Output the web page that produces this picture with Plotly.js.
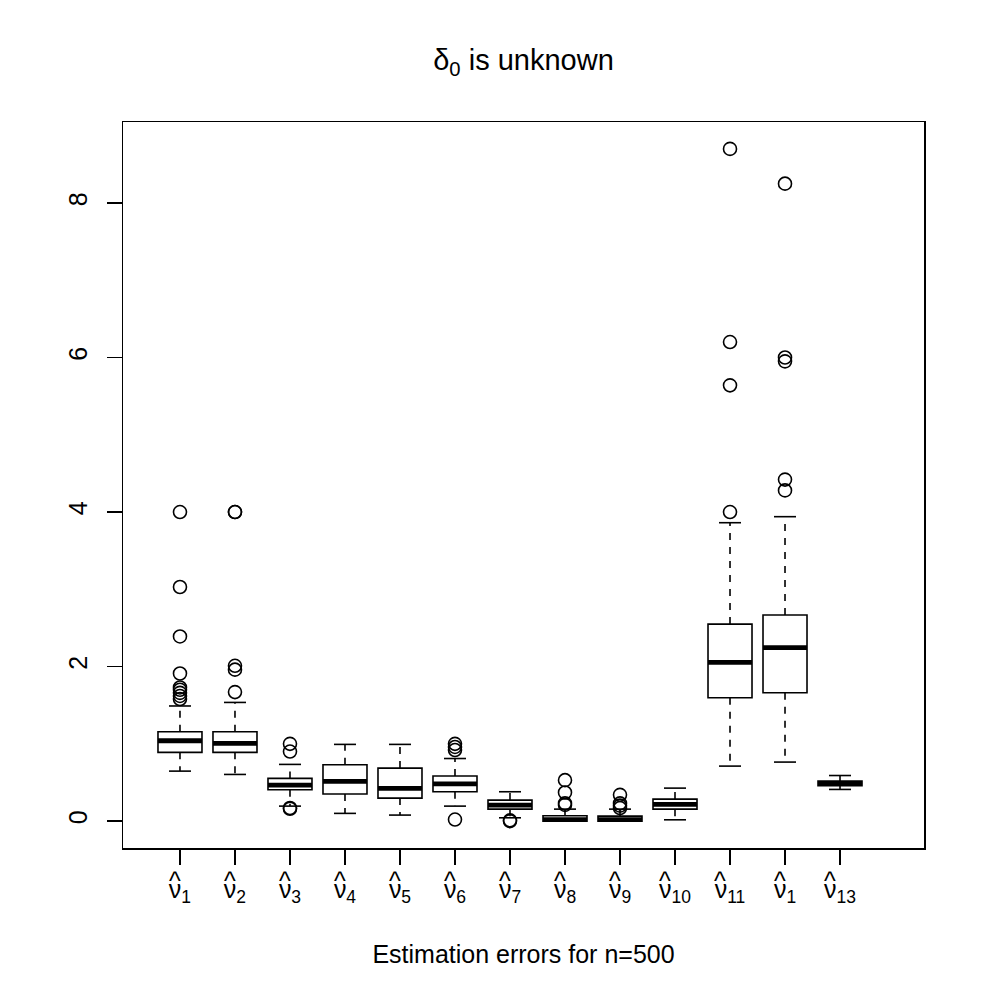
<!DOCTYPE html>
<html>
<head>
<meta charset="utf-8">
<script src="https://cdn.plot.ly/plotly-3.0.1.min.js"></script>
<style>html,body{margin:0;padding:0;background:#fff;}#chart{width:988px;height:1003px;}</style>
</head>
<body>
<div id="chart"></div>
<script>
// ---- data ----
const positions = [1,2,3,4,5,6,7,8,9,10,11,12,13];
const labelSubscripts = ["1","2","3","4","5","6","7","8","9","10","11","1","13"];
const q1Values     = [0.89, 0.89, 0.405, 0.35, 0.298, 0.38, 0.155, 0.0, 0.0, 0.155, 1.596, 1.661, 0.457];
const medianValues = [1.04, 1.006, 0.466, 0.514, 0.423, 0.483, 0.207, 0.02, 0.02, 0.216, 2.054, 2.244, 0.488];
const q3Values     = [1.156, 1.156, 0.553, 0.729, 0.686, 0.583, 0.272, 0.069, 0.065, 0.285, 2.55, 2.667, 0.518];
const lowerWhisker = [0.647, 0.604, 0.194, 0.1, 0.078, 0.194, 0.043, 0.0, 0.0, 0.017, 0.712, 0.764, 0.41];
const upperWhisker = [1.49, 1.536, 0.734, 0.993, 0.993, 0.81, 0.38, 0.155, 0.155, 0.427, 3.862, 3.94, 0.59];
const outlierValues = [
  [4.0, 3.03, 2.39, 1.91, 1.73, 1.70, 1.66, 1.62, 1.58],
  [4.0, 4.0, 2.01, 1.96, 1.67],
  [1.0, 0.9, 0.17, 0.16],
  [],
  [],
  [1.0, 0.96, 0.92, 0.02],
  [0.01, 0.0],
  [0.53, 0.37, 0.23, 0.21],
  [0.34, 0.23, 0.2, 0.17],
  [],
  [8.7, 6.2, 5.64, 4.0],
  [8.25, 6.0, 5.95, 4.42, 4.28],
  []
];
const yTickValues = [0, 2, 4, 6, 8];
const titleText = "δ<sub>0</sub> is unknown";
const xTitleText = "Estimation errors for n=500";

// ---- styling ----
const FONT = "Liberation Sans, Arial, Helvetica, sans-serif";
const BOX_WIDTH = 0.8;
const CAP_HALF = BOX_WIDTH / 4;

const tickLabels = labelSubscripts.map(s => "ν<sub>" + s + "</sub>");

// hats (^) drawn above each ν, as R's hat(nu)[i]
const hatAnnotations = positions.map((p, i) => ({
  text: "^", xref: 'x', yref: 'paper', x: p, y: 0,
  xanchor: 'center', yanchor: 'middle',
  xshift: -labelSubscripts[i].length * 4.9, yshift: -33,
  showarrow: false, font: {family: FONT, size: 25, color: '#000'}
}));

const boxTrace = {
  type: 'box',
  x: positions,
  q1: q1Values,
  median: medianValues,
  q3: q3Values,
  lowerfence: q1Values,
  upperfence: q3Values,
  width: BOX_WIDTH,
  whiskerwidth: 0,
  boxpoints: false,
  fillcolor: '#ffffff',
  line: {color: '#000000', width: 1.6},
  hoverinfo: 'skip'
};

const wx = [], wy = [], cx = [], cy = [], mx = [], my = [];
positions.forEach((p, i) => {
  wx.push(p, p, null, p, p, null);
  wy.push(q3Values[i], upperWhisker[i], null, q1Values[i], lowerWhisker[i], null);
  cx.push(p - CAP_HALF, p + CAP_HALF, null, p - CAP_HALF, p + CAP_HALF, null);
  cy.push(upperWhisker[i], upperWhisker[i], null, lowerWhisker[i], lowerWhisker[i], null);
  mx.push(p - BOX_WIDTH / 2, p + BOX_WIDTH / 2, null);
  my.push(medianValues[i], medianValues[i], null);
});

const whiskerTrace = {type: 'scatter', mode: 'lines', x: wx, y: wy, line: {color: '#000', width: 1.6, dash: '7px,7px'}, hoverinfo: 'skip', connectgaps: false};
const capTrace = {type: 'scatter', mode: 'lines', x: cx, y: cy, line: {color: '#000', width: 1.6}, hoverinfo: 'skip', connectgaps: false};
const medianTrace = {type: 'scatter', mode: 'lines', x: mx, y: my, line: {color: '#000', width: 4.8}, hoverinfo: 'skip', connectgaps: false};

const ox = [], oy = [];
outlierValues.forEach((arr, i) => arr.forEach(v => { ox.push(positions[i]); oy.push(v); }));
const outlierTrace = {type: 'scatter', mode: 'markers', x: ox, y: oy,
  marker: {symbol: 'circle-open', size: 13, color: '#000', line: {width: 1.6, color: '#000'}}, hoverinfo: 'skip'};

const layout = {
  width: 988, height: 1003,
  margin: {l: 123, r: 64, t: 122, b: 155, pad: 0},
  paper_bgcolor: '#ffffff', plot_bgcolor: '#ffffff',
  showlegend: false,
  font: {family: FONT, color: '#000', size: 24},
  title: {text: titleText, font: {family: FONT, size: 29, color: '#000'},
    x: 0.5, xref: 'paper', xanchor: 'center', y: 1 - 60 / 1003, yref: 'container', yanchor: 'middle'},
  annotations: hatAnnotations,
  xaxis: {
    range: [-0.036, 14.527],
    tickmode: 'array', tickvals: positions, ticktext: tickLabels,
    ticks: 'outside', ticklen: 15, tickwidth: 1.5, tickcolor: '#000',
    ticklabelstandoff: 3,
    showline: true, mirror: true, linecolor: '#000', linewidth: 1.5,
    showgrid: false, zeroline: false,
    tickfont: {family: FONT, size: 25, color: '#000'},
    title: {text: xTitleText, font: {family: FONT, size: 25, color: '#000'}, standoff: 39}
  },
  yaxis: {
    range: [-0.348, 9.048],
    tickmode: 'array', tickvals: yTickValues, ticktext: yTickValues.map(String),
    tickangle: -90,
    ticks: 'outside', ticklen: 15, tickwidth: 1.5, tickcolor: '#000',
    ticklabelstandoff: 10,
    showline: true, mirror: true, linecolor: '#000', linewidth: 1.5,
    showgrid: false, zeroline: false,
    tickfont: {family: FONT, size: 25, color: '#000'}
  }
};

Plotly.newPlot('chart', [boxTrace, whiskerTrace, capTrace, medianTrace, outlierTrace], layout, {staticPlot: true, displayModeBar: false});
</script>
</body>
</html>
